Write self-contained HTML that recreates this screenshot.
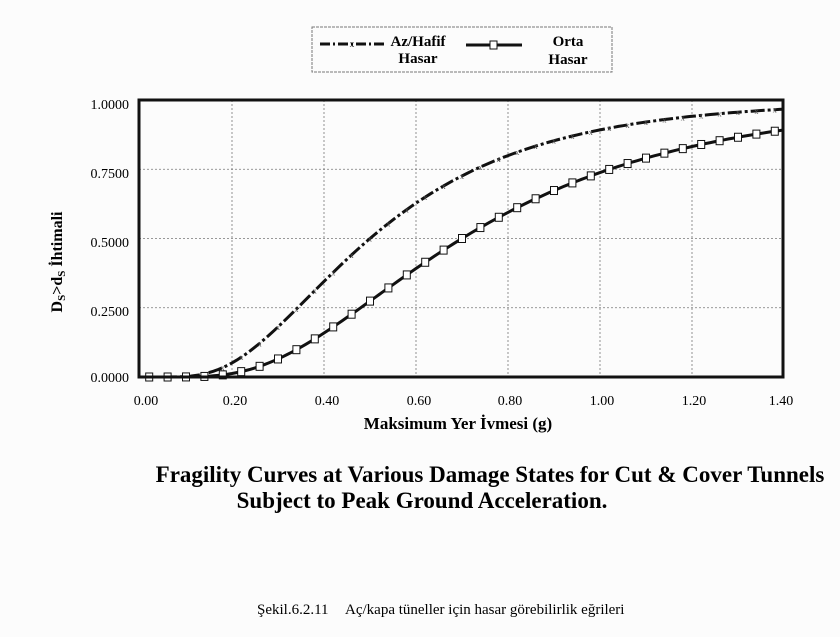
<!DOCTYPE html>
<html><head><meta charset="utf-8"><style>
body{margin:0;background:#fff;}
svg{display:block;font-family:"Liberation Serif",serif;}
</style></head><body>
<svg id="s" width="840" height="637" viewBox="0 0 840 637" xmlns="http://www.w3.org/2000/svg">
<rect width="840" height="637" fill="#fcfcfc"/>
<rect x="312" y="27" width="300" height="45" fill="none" stroke="#777" stroke-width="1" stroke-dasharray="3,1"/>
<line x1="320" y1="44" x2="384" y2="44" stroke="#111" stroke-width="3" stroke-dasharray="10,3,2,3"/>
<text x="352" y="47" font-size="9" text-anchor="middle">x</text>
<text x="418" y="46" font-size="15" font-weight="bold" text-anchor="middle">Az/Hafif</text>
<text x="418" y="63" font-size="15" font-weight="bold" text-anchor="middle">Hasar</text>
<line x1="466" y1="45" x2="522" y2="45" stroke="#111" stroke-width="3"/>
<rect x="490" y="41" width="7" height="8" fill="#fff" stroke="#111"/>
<text x="568" y="46" font-size="15" font-weight="bold" text-anchor="middle">Orta</text>
<text x="568" y="64" font-size="15" font-weight="bold" text-anchor="middle">Hasar</text>
<g id="grid" stroke="#777" stroke-width="0.8" stroke-dasharray="2,2"></g>
<g id="curves"></g>
<rect x="139" y="100" width="644" height="277" fill="none" stroke="#111" stroke-width="3"/>
<g font-size="14" text-anchor="end">
<text x="129" y="109">1.0000</text><text x="129" y="178">0.7500</text><text x="129" y="247">0.5000</text><text x="129" y="316">0.2500</text><text x="129" y="382">0.0000</text>
</g>
<g font-size="14" text-anchor="middle">
<text x="146" y="405">0.00</text><text x="235" y="405">0.20</text><text x="327" y="405">0.40</text><text x="419" y="405">0.60</text><text x="510" y="405">0.80</text><text x="602" y="405">1.00</text><text x="694" y="405">1.20</text><text x="781" y="405">1.40</text>
</g>
<text x="458" y="429" font-size="17" font-weight="bold" text-anchor="middle">Maksimum Yer İvmesi (g)</text>
<text transform="translate(62,262) rotate(-90)" font-size="16" font-weight="bold" text-anchor="middle">D<tspan font-size="11" dy="3">S</tspan><tspan dy="-3">&gt;d</tspan><tspan font-size="11" dy="3">S</tspan><tspan dy="-3"> İhtimali</tspan></text>
<text x="490" y="482" font-size="23" font-weight="bold" text-anchor="middle">Fragility Curves at Various Damage States for Cut &amp; Cover Tunnels</text>
<text x="422" y="508" font-size="23" font-weight="bold" text-anchor="middle">Subject to Peak Ground Acceleration.</text>
<text x="257" y="614" font-size="15">Şekil.6.2.11</text>
<text x="345" y="614" font-size="15">Aç/kapa tüneller için hasar görebilirlik eğrileri</text>
</svg>
<script>
(function(){
var NS="http://www.w3.org/2000/svg";
function X(v){return 140+v*460;}function Y(p){return 377-277*p;}
function erf(x){var s=x<0?-1:1;x=Math.abs(x);var t=1/(1+0.3275911*x);var y=1-(((((1.061405429*t-1.453152027)*t)+1.421413741)*t-0.284496736)*t+0.254829592)*t*Math.exp(-x*x);return s*y;}
function F(a,m,b){if(a<=0)return 0;return 0.5*(1+erf(Math.log(a/m)/(b*Math.SQRT2)));}
var g=document.getElementById("grid");
[0.2,0.4,0.6,0.8,1.0,1.2].forEach(function(v){var l=document.createElementNS(NS,"line");l.setAttribute("x1",X(v));l.setAttribute("x2",X(v));l.setAttribute("y1",100);l.setAttribute("y2",377);g.appendChild(l);});
[0.25,0.5,0.75].forEach(function(p){var l=document.createElementNS(NS,"line");l.setAttribute("x1",139);l.setAttribute("x2",783);l.setAttribute("y1",Y(p));l.setAttribute("y2",Y(p));g.appendChild(l);});
var c=document.getElementById("curves");
function curve(m,b,dash,marker){var d="";for(var i=0;i<=140;i++){var a=i/100;d+=(i?"L":"M")+X(a).toFixed(1)+","+Y(F(a,m,b)).toFixed(1);}
var p=document.createElementNS(NS,"path");p.setAttribute("d",d);p.setAttribute("fill","none");p.setAttribute("stroke","#111");p.setAttribute("stroke-width","3");if(dash)p.setAttribute("stroke-dasharray",dash);c.appendChild(p);
for(var a=0.02;a<=1.401;a+=0.04){var x=X(a),y=Y(F(a,m,b));
if(marker=="sq"){var r=document.createElementNS(NS,"rect");r.setAttribute("x",x-3.5);r.setAttribute("y",y-4);r.setAttribute("width",7);r.setAttribute("height",8);r.setAttribute("fill","#fff");r.setAttribute("stroke","#111");c.appendChild(r);}
else{var t=document.createElementNS(NS,"text");t.setAttribute("x",x);t.setAttribute("y",y+3);t.setAttribute("font-size","8");t.setAttribute("text-anchor","middle");t.setAttribute("fill","#555");t.textContent="x";c.appendChild(t);}}}
curve(0.5,0.56,"14,3,3,3","x");
curve(0.7,0.56,null,"sq");
})();
</script>
</body></html>
